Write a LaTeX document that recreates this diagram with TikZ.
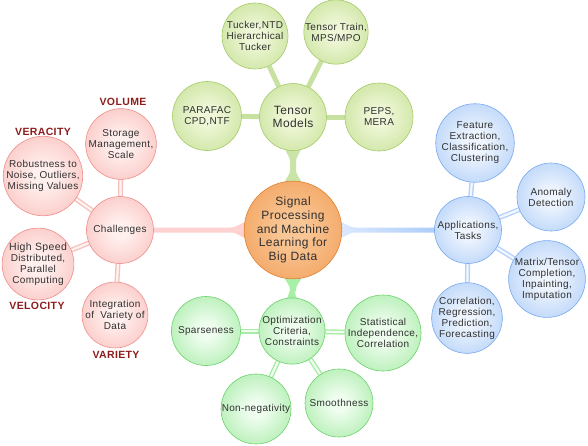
\documentclass[tikz,border=0pt]{standalone}
\usepackage{fontspec}
\setmainfont{Liberation Sans}[LetterSpace=3.5]
\usetikzlibrary{calc,backgrounds}
\definecolor{txt}{HTML}{303030}
\definecolor{lab}{HTML}{8E1C1C}
\definecolor{orIn}{HTML}{F9C796}
\definecolor{orOut}{HTML}{EF8E40}
\definecolor{orBd}{HTML}{E08030}
\definecolor{ygIn}{HTML}{EFF7D8}
\definecolor{ygOut}{HTML}{B6D87C}
\definecolor{ygBd}{HTML}{A4CA68}
\definecolor{gnIn}{HTML}{EFFDEF}
\definecolor{gnOut}{HTML}{88E488}
\definecolor{gnBd}{HTML}{6CD26C}
\definecolor{blIn}{HTML}{EFF5FE}
\definecolor{blOut}{HTML}{94BEF5}
\definecolor{blBd}{HTML}{78A8EE}
\definecolor{pkIn}{HTML}{FFF0EE}
\definecolor{pkOut}{HTML}{F7ACA8}
\definecolor{pkBd}{HTML}{EE8E8A}
\definecolor{pkLk}{HTML}{F6C2BE}
\definecolor{pkLkIn}{HTML}{FFF3F1}
\definecolor{blLk}{HTML}{B4D2FA}
\definecolor{blLkIn}{HTML}{F2F7FF}
\definecolor{gnLk}{HTML}{A6ECA6}
\definecolor{gnLkIn}{HTML}{F0FDF0}
\definecolor{ygLk}{HTML}{C8E1A0}
\definecolor{pkMain}{HTML}{FDD2D0}
\definecolor{blMainL}{HTML}{DCE9FD}
\definecolor{blMainR}{HTML}{9EC3F8}
\definecolor{ygMain}{HTML}{CAE3A6}
\definecolor{gnMain}{HTML}{A8EFA8}
\pgfdeclareradialshading{orball}{\pgfpoint{0bp}{0bp}}{color(0bp)=(orIn); color(6bp)=(orIn); color(46bp)=(orOut); color(50bp)=(orOut)}
\pgfdeclareradialshading{ygball}{\pgfpoint{0bp}{0bp}}{color(0bp)=(ygIn); color(6bp)=(ygIn); color(46bp)=(ygOut); color(50bp)=(ygOut)}
\pgfdeclareradialshading{gnball}{\pgfpoint{0bp}{0bp}}{color(0bp)=(gnIn); color(6bp)=(gnIn); color(46bp)=(gnOut); color(50bp)=(gnOut)}
\pgfdeclareradialshading{blball}{\pgfpoint{0bp}{0bp}}{color(0bp)=(blIn); color(6bp)=(blIn); color(46bp)=(blOut); color(50bp)=(blOut)}
\pgfdeclareradialshading{pkball}{\pgfpoint{0bp}{0bp}}{color(0bp)=(pkIn); color(6bp)=(pkIn); color(46bp)=(pkOut); color(50bp)=(pkOut)}
\tikzset{
  ball/.style={circle, inner sep=0pt, align=center, text=txt, line width=0.6pt, shade,
    font=\fontsize{10}{11}\selectfont},
  orn/.style={ball, draw=orBd, shading=orball, font=\fontsize{12}{13.6}\selectfont},
  ygn/.style={ball, draw=ygBd, shading=ygball},
  gnn/.style={ball, draw=gnBd, shading=gnball},
  bln/.style={ball, draw=blBd, shading=blball},
  pkn/.style={ball, draw=pkBd, shading=pkball},
  vlabel/.style={text=lab, font=\fontsize{10.5}{12}\selectfont\bfseries, inner sep=0pt},
  pklink/.style={draw=pkLk, line width=1.4pt, double=pkLkIn, double distance=2.2pt},
  bllink/.style={draw=blLk, line width=1.4pt, double=blLkIn, double distance=2.2pt},
  gnlink/.style={draw=gnLk, line width=1.4pt, double=gnLkIn, double distance=2.2pt},
  yglink/.style={draw=ygLk, line width=5pt},
}
\begin{document}
\begin{tikzpicture}[x=1pt,y=-1pt]
\useasboundingbox (0,0) rectangle (588,445);
% centre
\node[orn, minimum size=93pt] (c) at (293,230) {Signal\\Processing\\and Machine\\Learning for\\Big Data};
% tensor models
\node[ygn, minimum size=67pt, font=\fontsize{12}{12.5}\selectfont] (tm) at (293,117) {Tensor\\Models};
\node[ygn, minimum size=66pt] (tuck) at (255,36) {Tucker,NTD\\Hierarchical\\Tucker};
\node[ygn, minimum size=63pt] (tt) at (336,32) {Tensor Train,\\MPS/MPO};
\node[ygn, minimum size=69pt] (para) at (207,116) {PARAFAC\\CPD,NTF};
\node[ygn, minimum size=68pt] (peps) at (379,117) {PEPS,\\MERA};
% challenges
\node[pkn, minimum size=67pt] (ch) at (120,230) {Challenges};
\node[pkn, minimum size=68pt] (stor) at (121,144) {Storage\\Management,\\Scale};
\node[pkn, minimum size=77pt] (rob) at (43,176) {Robustness to\\Noise, Outliers,\\Missing Values};
\node[pkn, minimum size=70pt] (speed) at (38,264) {{\fontsize{10.5}{11}\selectfont High Speed}\\Distributed,\\Parallel\\Computing};
\node[pkn, minimum size=64pt] (integ) at (115,315) {Integration\\of~ Variety of\\Data};
\node[vlabel] (volume) at (123,102) {VOLUME};
\node[vlabel] (veracity) at (43,132) {VERACITY};
\node[vlabel] (velocity) at (37,306) {VELOCITY};
\node[vlabel] (variety) at (116,355) {VARIETY};
% applications
\node[bln, minimum size=67pt] (app) at (468,230) {Applications,\\Tasks};
\node[bln, minimum size=70pt] (feat) at (475,143) {Feature\\Extraction,\\Classification,\\Clustering};
\node[bln, minimum size=68pt] (anom) at (551,197) {Anomaly\\Detection};
\node[bln, minimum size=76pt] (mat) at (547,279) {Matrix/Tensor\\Completion,\\Inpainting,\\Imputation};
\node[bln, minimum size=70pt] (corr) at (467,318) {Correlation,\\Regression,\\Prediction,\\Forecasting};
% optimization
\node[gnn, minimum size=64pt] (opt) at (292,331) {Optimization\\Criteria,\\Constraints};
\node[gnn, minimum size=69pt] (spar) at (206,331) {Sparseness};
\node[gnn, minimum size=72pt] (stat) at (383,333) {Statistical\\Independence,\\Correlation};
\node[gnn, minimum size=70pt] (nonneg) at (256,409) {Non-negativity};
\node[gnn, minimum size=68pt] (smooth) at (339,403) {Smoothness};

\begin{scope}[on background layer]
% main connectors
\fill[pkMain] ($(ch.center)+(0,-2.5)$) -- ($(c.west)+(-14,-2.5)$)
  .. controls ($(c.west)+(-6,-2.5)$) and ($(c.west)+(-4,-7)$) .. ($(c.west)+(2,-8)$)
  -- ($(c.west)+(2,8)$)
  .. controls ($(c.west)+(-4,7)$) and ($(c.west)+(-6,2.5)$) .. ($(c.west)+(-14,2.5)$)
  -- ($(ch.center)+(0,2.5)$) -- cycle;
\shade[left color=blMainL, right color=blMainR] ($(c.east)+(-2,-8)$)
  .. controls ($(c.east)+(4,-7)$) and ($(c.east)+(6,-2.5)$) .. ($(c.east)+(14,-2.5)$)
  -- ($(app.center)+(0,-2.5)$) -- ($(app.center)+(0,2.5)$) -- ($(c.east)+(14,2.5)$)
  .. controls ($(c.east)+(6,2.5)$) and ($(c.east)+(4,7)$) .. ($(c.east)+(-2,8)$) -- cycle;
\fill[ygMain] ($(tm.south)+(-8,-2)$)
  .. controls ($(tm.south)+(-6,4)$) and ($(tm.south)+(-3,6)$) .. ($(tm.south)+(-3,11)$)
  -- ($(c.north)+(-3,-11)$)
  .. controls ($(c.north)+(-3,-6)$) and ($(c.north)+(-6,-4)$) .. ($(c.north)+(-9,2)$)
  -- ($(c.north)+(9,2)$)
  .. controls ($(c.north)+(6,-4)$) and ($(c.north)+(3,-6)$) .. ($(c.north)+(3,-11)$)
  -- ($(tm.south)+(3,11)$)
  .. controls ($(tm.south)+(3,6)$) and ($(tm.south)+(6,4)$) .. ($(tm.south)+(8,-2)$) -- cycle;
\fill[gnMain] ($(c.south)+(-9,-2)$)
  .. controls ($(c.south)+(-6,4)$) and ($(c.south)+(-3,6)$) .. ($(c.south)+(-3,11)$)
  -- ($(opt.north)+(-3,-5)$)
  .. controls ($(opt.north)+(-3,-2)$) and ($(opt.north)+(-5,0)$) .. ($(opt.north)+(-6,3)$)
  -- ($(opt.north)+(6,3)$)
  .. controls ($(opt.north)+(5,0)$) and ($(opt.north)+(3,-2)$) .. ($(opt.north)+(3,-5)$)
  -- ($(c.south)+(3,11)$)
  .. controls ($(c.south)+(3,6)$) and ($(c.south)+(6,4)$) .. ($(c.south)+(9,-2)$) -- cycle;
% satellite connectors
\draw[yglink] (tm) -- (tuck);
\draw[yglink] (tm) -- (tt);
\draw[yglink] (tm) -- (para);
\draw[yglink] (tm) -- (peps);
\draw[pklink] (ch) -- (stor);
\draw[pklink] (ch) -- (rob);
\draw[pklink] (ch) -- (speed);
\draw[pklink] (ch) -- (integ);
\draw[bllink] (app) -- (feat);
\draw[bllink] (app) -- (anom);
\draw[bllink] (app) -- (mat);
\draw[bllink] (app) -- (corr);
\draw[gnlink] (opt) -- (spar);
\draw[gnlink] (opt) -- (stat);
\draw[gnlink] (opt) -- (nonneg);
\draw[gnlink] (opt) -- (smooth);
\end{scope}
\end{tikzpicture}
\end{document}
